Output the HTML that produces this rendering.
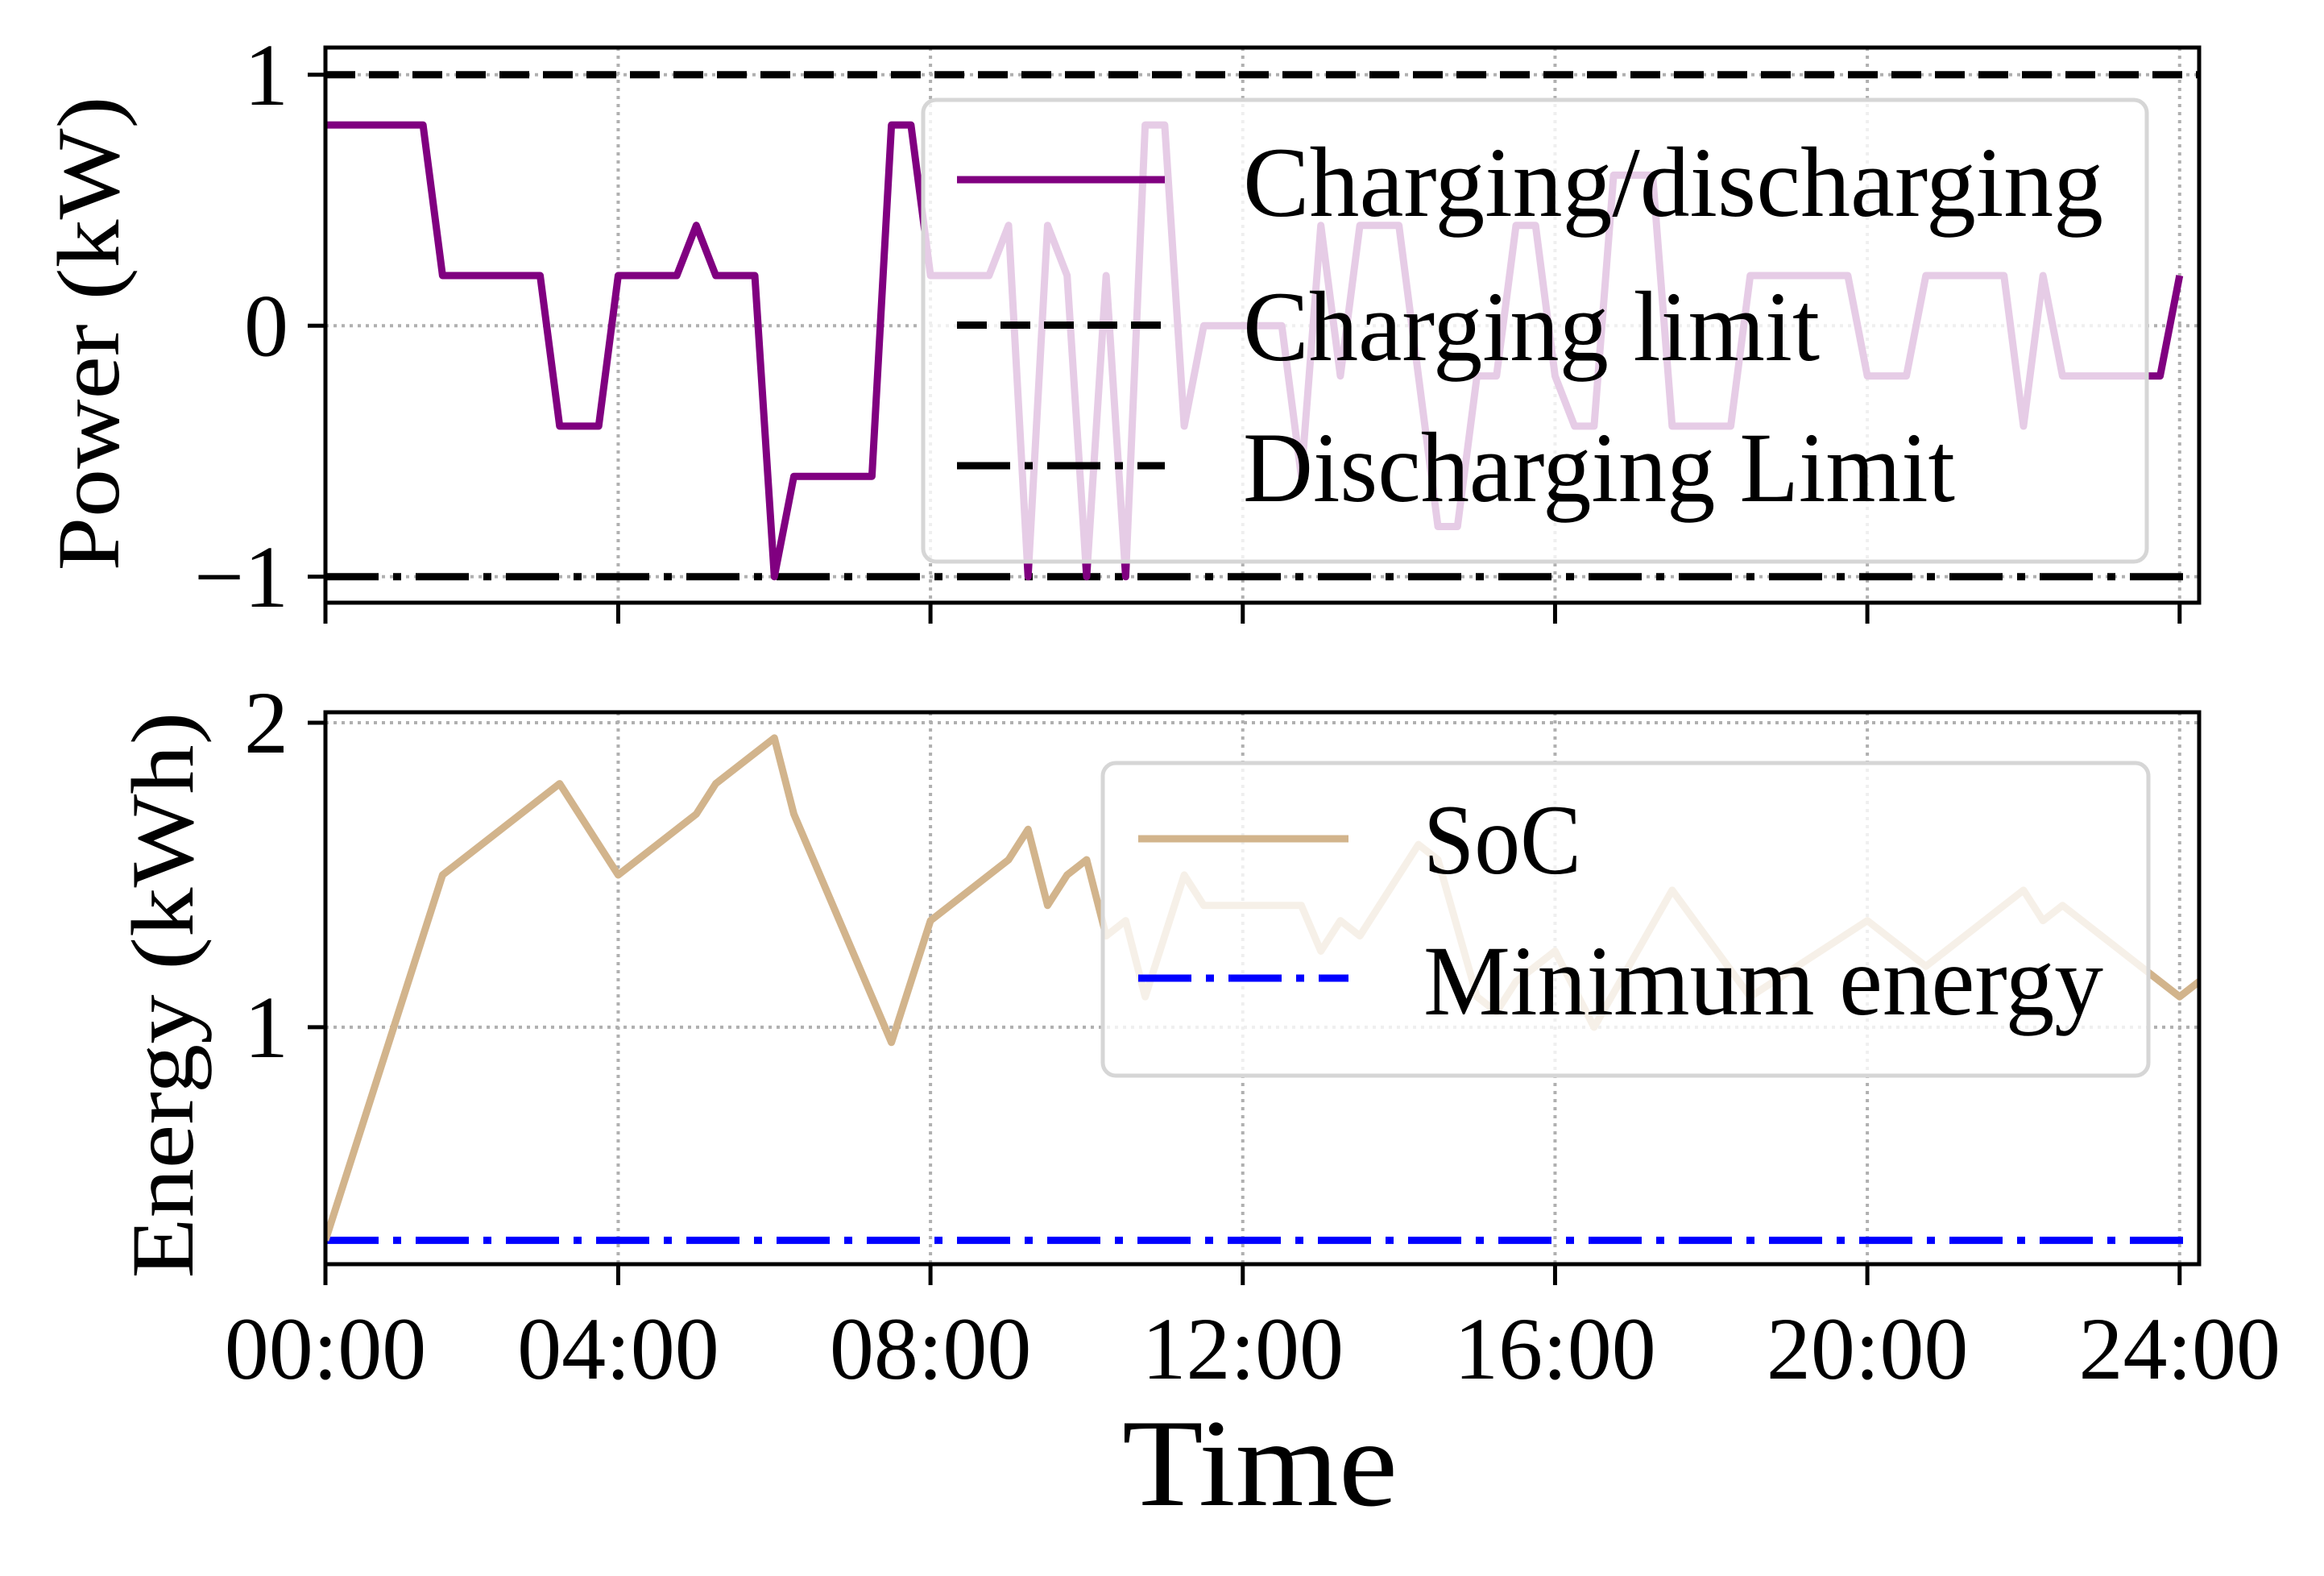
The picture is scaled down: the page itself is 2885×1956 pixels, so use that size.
<!DOCTYPE html>
<html><head><meta charset="utf-8"><style>
html,body{margin:0;padding:0;background:#fff;}
svg{display:block;font-family:"Liberation Serif","DejaVu Serif",serif;}
</style></head><body>
<svg id="chart" width="2885" height="1956" viewBox="0 0 2885 1956" xmlns="http://www.w3.org/2000/svg">
<defs>
<clipPath id="clipTop"><rect x="404" y="59" width="2326" height="689"/></clipPath>
<clipPath id="clipBot"><rect x="404" y="884" width="2326" height="685"/></clipPath>
</defs>
<g id="topPanel"></g>
<g id="botPanel"></g>
</svg>
<script>
// ---- data ----
const powerTimes = [0.25,1.5,1.75,3,3.25,3.75,4,4.75,5,5.25,5.75,6,6.25,7.25,7.5,7.75,8,8.75,9,9.25,9.5,9.75,10,10.25,10.5,10.75,11,11.25,11.5,12.5,12.75,13,13.25,13.5,14,14.5,14.75,15,15.25,15.5,15.75,16,16.25,16.5,16.75,17.25,17.5,18.25,18.5,19.75,20,20.5,20.75,21.75,22,22.25,22.5,23.75,24];
const powerValues = [0.8,0.8,0.2,0.2,-0.4,-0.4,0.2,0.2,0.4,0.2,0.2,-1,-0.6,-0.6,0.8,0.8,0.2,0.2,0.4,-1,0.4,0.2,-1,0.2,-1,0.8,0.8,-0.4,0,0,-0.6,0.4,-0.2,0.4,0.4,-0.8,-0.8,-0.2,-0.2,0.4,0.4,-0.2,-0.4,-0.4,0.6,0.6,-0.4,-0.4,0.2,0.2,-0.2,-0.2,0.2,0.2,-0.4,0.2,-0.2,-0.2,0.2];
const chargeLimit = 1;
const dischargeLimit = -1;
const socTimes = [0.25,1.75,3.25,4,5,5.25,6,6.25,7.5,8,9,9.25,9.5,9.75,10,10.25,10.5,10.75,11.25,11.5,12.75,13,13.25,13.5,14.25,14.5,15,15.25,15.5,16,16.5,17.5,18.5,20,20.75,22,22.25,22.5,24,24.25];
const socValues = [0.3,1.5,1.8,1.5,1.7,1.8,1.95,1.7,0.95,1.35,1.55,1.65,1.4,1.5,1.55,1.3,1.35,1.1,1.5,1.4,1.4,1.25,1.35,1.3,1.6,1.55,1.1,1.05,1.15,1.25,1.0,1.45,1.1,1.35,1.2,1.45,1.35,1.4,1.1,1.15];
const minEnergy = 0.3;
const xTickValues = [0.25,4,8,12,16,20,24];
const xTickLabels = ["00:00","04:00","08:00","12:00","16:00","20:00","24:00"];
const powerTicks = [1,0,-1];
const powerTickLabels = ["1","0","\u22121"];
const energyTicks = [2,1];
const energyTickLabels = ["2","1"];

// ---- scales ----
const X0=404, X1=2730, T0=0.25, T1=24.25;
function xs(t){return X0+(t-T0)*(X1-X0)/(T1-T0);}
function ysTop(v){return 404.3-311.5*v;}
function ysBot(v){return 1274.9-377.9*(v-1);}
const NS="http://www.w3.org/2000/svg";
function mk(tag,attrs,parent){const e=document.createElementNS(NS,tag);for(const k in attrs)e.setAttribute(k,attrs[k]);parent.appendChild(e);return e;}
const gTop=document.getElementById('topPanel'), gBot=document.getElementById('botPanel');

function panel(g,yTop,yBot,ys,yt,ytl,name){
  xTickValues.forEach((t,i)=>{
    const l=mk('line',{x1:xs(t),x2:xs(t),y1:yTop,y2:yBot,stroke:'#b0b0b0','stroke-width':4,'stroke-dasharray':'4 6'},g);
    
    
  });
  yt.forEach((v,i)=>{
    const l=mk('line',{x1:X0,x2:X1,y1:ys(v),y2:ys(v),stroke:'#b0b0b0','stroke-width':4,'stroke-dasharray':'4 6'},g);
    
    
    const tk=mk('line',{x1:X0-22,x2:X0,y1:ys(v),y2:ys(v),stroke:'#000','stroke-width':5},g);
    
    
    const tx=mk('text',{x:358,y:ys(v)+37,'font-size':110,'text-anchor':'end',fill:'#000'},g);
    tx.textContent=ytl[i];
    
    
  });
  xTickValues.forEach((t,i)=>{
    const tk=mk('line',{x1:xs(t),x2:xs(t),y1:yBot,y2:yBot+26,stroke:'#000','stroke-width':5},g);
    
    
  });
}
panel(gTop,59,748,ysTop,powerTicks,powerTickLabels,'power');
panel(gBot,884,1569,ysBot,energyTicks,energyTickLabels,'energy');

const gt=mk('g',{'clip-path':'url(#clipTop)'},gTop);
let l1=mk('line',{x1:X0,x2:X1,y1:ysTop(chargeLimit),y2:ysTop(chargeLimit),stroke:'#000','stroke-width':9,'stroke-dasharray':'37 17'},gt);


let l2=mk('line',{x1:X0,x2:X1,y1:ysTop(dischargeLimit),y2:ysTop(dischargeLimit),stroke:'#000','stroke-width':9,'stroke-dasharray':'66 18 10 18'},gt);


let p1=mk('polyline',{points:powerTimes.map((t,i)=>xs(t)+','+ysTop(powerValues[i])).join(' '),fill:'none',stroke:'#800080','stroke-width':9,'stroke-linejoin':'round'},gt);



const gb=mk('g',{'clip-path':'url(#clipBot)'},gBot);
let l3=mk('line',{x1:X0,x2:X1,y1:ysBot(minEnergy),y2:ysBot(minEnergy),stroke:'#0000ff','stroke-width':9,'stroke-dasharray':'66 18 10 18'},gb);


let p2=mk('polyline',{points:socTimes.map((t,i)=>xs(t)+','+ysBot(socValues[i])).join(' '),fill:'none',stroke:'#d2b48c','stroke-width':9,'stroke-linejoin':'round'},gb);



[[gTop,59,748],[gBot,884,1569]].forEach(([g,a,b])=>{
  const r=mk('rect',{x:X0,y:a,width:X1-X0,height:b-a,fill:'none',stroke:'#000','stroke-width':5},g);
  
  
});

xTickValues.forEach((t,i)=>{
  const tx=mk('text',{x:xs(t),y:1711,'font-size':110,'text-anchor':'middle',fill:'#000'},gBot);
  tx.textContent=xTickLabels[i];
  
  
});

function legendBox(g,x,y,w,h,name){
  const r=mk('rect',{x:x,y:y,width:w,height:h,rx:16,ry:16,fill:'rgba(255,255,255,0.8)',stroke:'#d6d6d6','stroke-width':5},g);
  
  
}
function legendEntry(g,y,x1,x2,tx,base,len,stroke,dash,label,name){
  const grp=mk('g',{},g);
  
  
  const a={x1:x1,x2:x2,y1:y,y2:y,stroke:stroke,'stroke-width':9};
  if(dash)a['stroke-dasharray']=dash;
  mk('line',a,grp);
  const t=mk('text',{x:tx,y:base,'font-size':124,fill:'#000',textLength:len,lengthAdjust:'spacingAndGlyphs'},grp);
  t.textContent=label;
}
legendBox(gTop,1146,124,1519,573,'power-legend');
legendEntry(gTop,223,1188,1446,1543,268,1068,'#800080',null,'Charging/discharging','legend-charging-discharging');
legendEntry(gTop,403.5,1188,1446,1543,447,716,'#000','37 17','Charging limit','legend-charging-limit');
legendEntry(gTop,578,1188,1446,1543,622,884,'#000','66 18 10 18','Discharging Limit','legend-discharging-limit');
legendBox(gBot,1369,947,1298,388,'energy-legend');
legendEntry(gBot,1041,1413,1674,1767,1084,196,'#d2b48c',null,'SoC','legend-soc');
legendEntry(gBot,1214,1413,1674,1767,1259,844,'#0000ff','66 18 10 18','Minimum energy','legend-minimum-energy');
</script>
<svg style="position:absolute;left:0;top:0" width="2885" height="1956">
<text transform="translate(147,414) rotate(-90)" font-size="110" text-anchor="middle" textLength="589" lengthAdjust="spacingAndGlyphs" font-family="Liberation Serif, serif">Power (kW)</text>
<text transform="translate(239,1235) rotate(-90)" font-size="110" text-anchor="middle" textLength="703" lengthAdjust="spacingAndGlyphs" font-family="Liberation Serif, serif">Energy (kWh)</text>
<text x="1564" y="1868" font-size="155" text-anchor="middle" textLength="342" lengthAdjust="spacingAndGlyphs" font-family="Liberation Serif, serif">Time</text>
</svg>
</body></html>
